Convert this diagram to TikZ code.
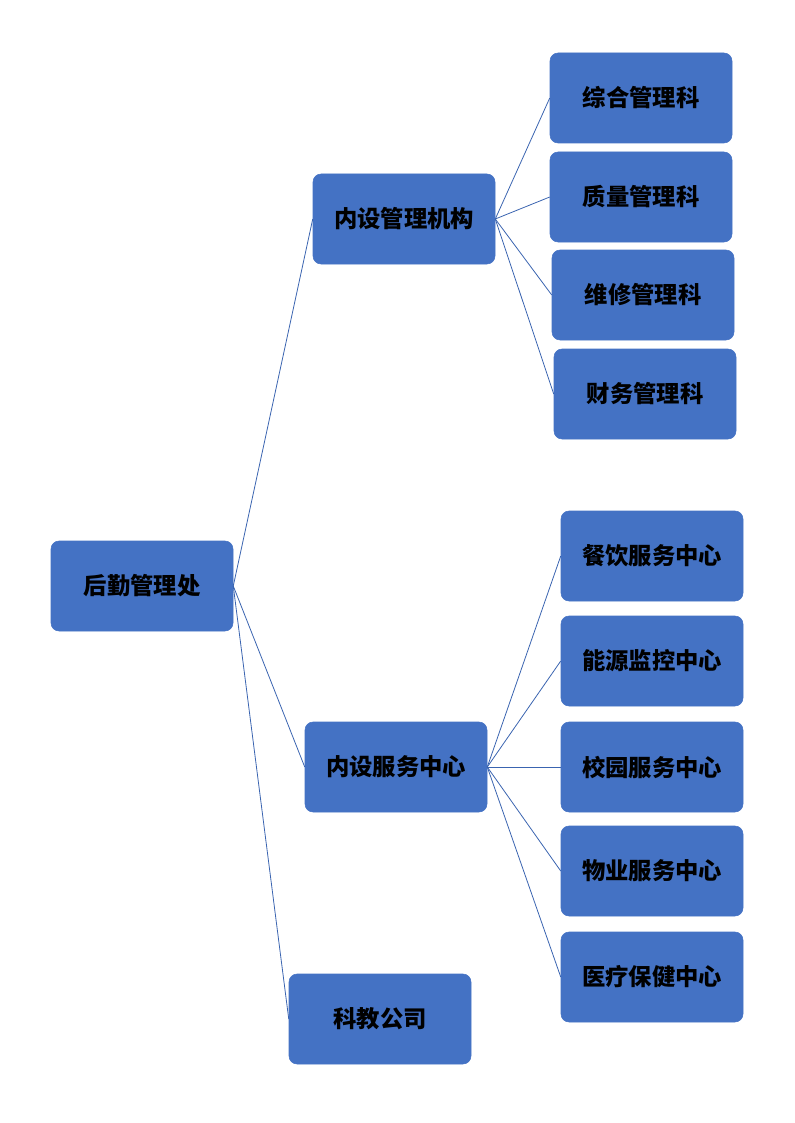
\documentclass[tikz,border=0pt]{standalone}
\usepackage{fontspec}
\newfontfamily\cjk{Noto Sans CJK SC}
\definecolor{boxblue}{HTML}{4472C4}
\definecolor{lineblue}{HTML}{3A64B0}
\tikzset{
  orgbox/.style={draw=boxblue, fill=boxblue, rounded corners=6pt, minimum width=136.5pt, minimum height=67.5pt, inner sep=0pt, font=\cjk\bfseries\fontsize{17.5}{20}\selectfont, text=black},
  link/.style={draw=lineblue, line width=0.6pt}
}
\begin{document}
\begin{tikzpicture}[x=0.75pt,y=-0.75pt]
\useasboundingbox (0,0) rectangle (794,1123);
\node[orgbox] (root) at (142,586) {后勤管理处};
\node[orgbox] (mgmt) at (404,219) {内设管理机构};
\node[orgbox] (serv) at (396,767) {内设服务中心};
\node[orgbox] (kj) at (380,1019) {科教公司};
\node[orgbox] (m1) at (641,98) {综合管理科};
\node[orgbox] (m2) at (641,197) {质量管理科};
\node[orgbox] (m3) at (643,295) {维修管理科};
\node[orgbox] (m4) at (645,394) {财务管理科};
\node[orgbox] (s1) at (652,556) {餐饮服务中心};
\node[orgbox] (s2) at (652,661) {能源监控中心};
\node[orgbox] (s3) at (652,767) {校园服务中心};
\node[orgbox] (s4) at (652,871) {物业服务中心};
\node[orgbox] (s5) at (652,977) {医疗保健中心};
\foreach \c in {mgmt,serv,kj} \draw[link] (root.east) -- (\c.west);
\foreach \c in {m1,m2,m3,m4} \draw[link] (mgmt.east) -- (\c.west);
\foreach \c in {s1,s2,s3,s4,s5} \draw[link] (serv.east) -- (\c.west);
\end{tikzpicture}
\end{document}
